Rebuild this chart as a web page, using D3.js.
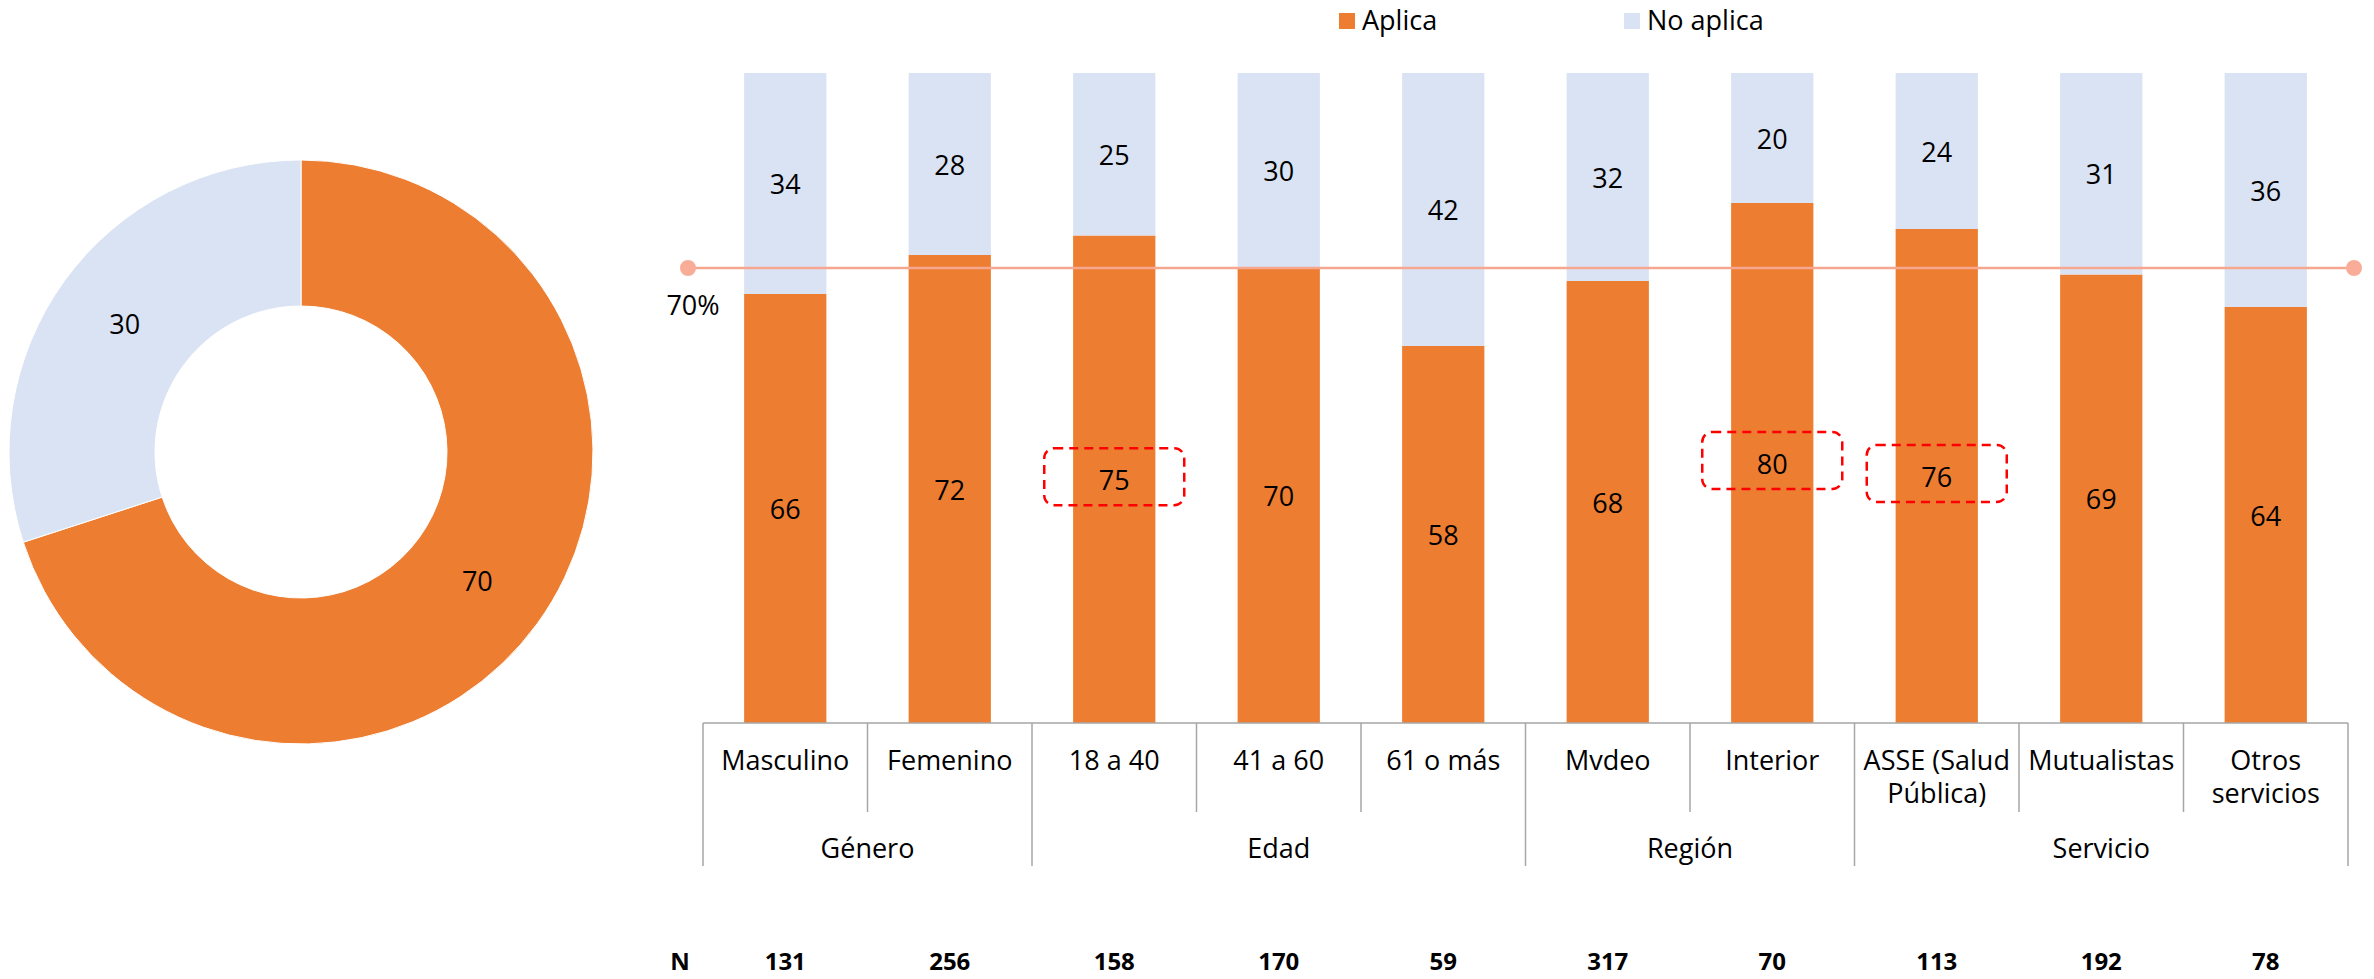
<!DOCTYPE html>
<html>
<head>
<meta charset="utf-8">
<script src="https://cdn.jsdelivr.net/npm/d3@7"></script>
<style>
  html, body { margin: 0; padding: 0; background: #fff; }
  svg { display: block; font-family: "Open Sans", sans-serif; }
</style>
</head>
<body>
<svg id="chart" width="2374" height="979"></svg>
<script>
// ---------- data ----------
const categories = ["Masculino", "Femenino", "18 a 40", "41 a 60", "61 o más", "Mvdeo", "Interior", "ASSE (Salud Pública)", "Mutualistas", "Otros servicios"];
const categoryLines = [["Masculino"], ["Femenino"], ["18 a 40"], ["41 a 60"], ["61 o más"], ["Mvdeo"], ["Interior"], ["ASSE (Salud", "Pública)"], ["Mutualistas"], ["Otros", "servicios"]];
const groupNames = ["Género", "Edad", "Región", "Servicio"];
const groupSizes = [2, 3, 2, 3];
const aplica = [66, 72, 75, 70, 58, 68, 80, 76, 69, 64];
const noAplica = [34, 28, 25, 30, 42, 32, 20, 24, 31, 36];
const nValues = [131, 256, 158, 170, 59, 317, 70, 113, 192, 78];
const highlighted = ["18 a 40", "Interior", "ASSE (Salud Pública)"];
const seriesNames = ["Aplica", "No aplica"];
const totalValues = [70, 30];
const targetValue = 70;
const targetLabel = "70%";
const nLabel = "N";

// ---------- styles ----------
const colors = { "Aplica": "#ED7D31", "No aplica": "#DAE3F3" };
const lineColor = "#F7A690";
const axisColor = "#A6A6A6";

const svg = d3.select("#chart");

// ---------- donut ----------
const donutG = svg.append("g").attr("transform", "translate(301,452)");
const pie = d3.pie().sort(null).value(d => d.value);
const arc = d3.arc().innerRadius(146).outerRadius(292);
const labelArc = d3.arc().innerRadius(218).outerRadius(218);
const pieData = pie(seriesNames.map((s, i) => ({ name: s, value: totalValues[i] })));
donutG.selectAll("path").data(pieData).join("path")
  .attr("d", arc)
  .attr("fill", d => colors[d.data.name])
  .attr("stroke", "#fff").attr("stroke-width", 1);
donutG.selectAll("text").data(pieData).join("text")
  .attr("transform", d => `translate(${labelArc.centroid(d)})`)
  .attr("text-anchor", "middle")
  .attr("dominant-baseline", "central")
  .attr("font-size", 27)
  .attr("fill", "#000")
  .text(d => d.data.value);

// ---------- bar chart ----------
const x = d3.scaleBand().domain(categories).range([703, 2348]).paddingInner(0.5).paddingOuter(0.25);
const y = d3.scaleLinear().domain([0, 100]).range([723, 73]);
const step = x.step();
const bw = x.bandwidth();
const boundary = i => x.range()[0] + i * step;

const rows = categories.map((c, i) => ({ cat: c, Aplica: aplica[i], "No aplica": noAplica[i] }));
const stacked = d3.stack().keys(seriesNames)(rows);

const barsG = svg.append("g");
stacked.forEach(layer => {
  barsG.append("g").selectAll("rect").data(layer).join("rect")
    .attr("x", d => x(d.data.cat))
    .attr("width", bw)
    .attr("y", d => y(d[1]))
    .attr("height", d => y(d[0]) - y(d[1]))
    .attr("fill", colors[layer.key]);
});

// target line
const lineG = svg.append("g");
const lx0 = boundary(0) - 15, lx1 = boundary(categories.length) + 6;
lineG.append("line")
  .attr("x1", lx0).attr("x2", lx1)
  .attr("y1", y(targetValue)).attr("y2", y(targetValue))
  .attr("stroke", lineColor).attr("stroke-width", 2.5);
[lx0, lx1].forEach(px => {
  lineG.append("circle").attr("cx", px).attr("cy", y(targetValue)).attr("r", 8).attr("fill", "#F9AC97");
});
lineG.append("text")
  .attr("x", lx0 + 5).attr("y", y(targetValue) + 36)
  .attr("text-anchor", "middle").attr("dominant-baseline", "central")
  .attr("font-size", 27).attr("fill", "#000")
  .text(targetLabel);

// value labels
stacked.forEach(layer => {
  svg.append("g").selectAll("text").data(layer).join("text")
    .attr("x", d => x(d.data.cat) + bw / 2)
    .attr("y", d => (y(d[0]) + y(d[1])) / 2)
    .attr("text-anchor", "middle")
    .attr("dominant-baseline", "central")
    .attr("font-size", 27)
    .attr("fill", "#000")
    .text(d => d.data[layer.key]);
});

// highlight boxes
const aplicaLayer = stacked[0];
svg.append("g").selectAll("rect")
  .data(aplicaLayer.filter(d => highlighted.includes(d.data.cat)))
  .join("rect")
  .attr("x", d => x(d.data.cat) + bw / 2 - 70)
  .attr("y", d => (y(d[0]) + y(d[1])) / 2 - 31)
  .attr("width", 140).attr("height", 57)
  .attr("rx", 10).attr("ry", 10)
  .attr("fill", "none")
  .attr("stroke", "#FF0000").attr("stroke-width", 2.5)
  .attr("stroke-dasharray", "9,6");

// category axis
const axisG = svg.append("g").attr("stroke", axisColor).attr("stroke-width", 1.5);
axisG.append("line").attr("x1", boundary(0)).attr("x2", boundary(categories.length))
  .attr("y1", y(0)).attr("y2", y(0));
const groupEdges = [0];
groupSizes.forEach(s => groupEdges.push(groupEdges[groupEdges.length - 1] + s));
d3.range(categories.length + 1).forEach(i => {
  const isGroup = groupEdges.includes(i);
  axisG.append("line")
    .attr("x1", boundary(i)).attr("x2", boundary(i))
    .attr("y1", y(0)).attr("y2", isGroup ? 866 : 812);
});

// category labels
const catG = svg.append("g");
categories.forEach((c, i) => {
  const t = catG.append("text")
    .attr("x", x(c) + bw / 2)
    .attr("text-anchor", "middle")
    .attr("font-size", 27)
    .attr("fill", "#000");
  categoryLines[i].forEach((ln, k) => {
    t.append("tspan").attr("x", x(c) + bw / 2).attr("y", 770 + k * 33).text(ln);
  });
});

// group labels
groupNames.forEach((g, gi) => {
  const cx = (boundary(groupEdges[gi]) + boundary(groupEdges[gi + 1])) / 2;
  svg.append("text")
    .attr("x", cx).attr("y", 858)
    .attr("text-anchor", "middle")
    .attr("font-size", 27).attr("fill", "#000")
    .text(g);
});

// N row
svg.append("text").attr("x", 680).attr("y", 970)
  .attr("text-anchor", "middle").attr("font-size", 24).attr("font-weight", "bold")
  .text(nLabel);
svg.append("g").selectAll("text").data(categories).join("text")
  .attr("x", c => x(c) + bw / 2).attr("y", 970)
  .attr("text-anchor", "middle").attr("font-size", 24).attr("font-weight", "bold")
  .text((c, i) => nValues[i]);

// legend
const legendX = [1339, 1624];
seriesNames.forEach((s, i) => {
  svg.append("rect").attr("x", legendX[i]).attr("y", 13).attr("width", 16).attr("height", 16)
    .attr("fill", colors[s]);
  svg.append("text").attr("x", legendX[i] + 23).attr("y", 30)
    .attr("font-size", 27).attr("fill", "#000").text(s);
});
</script>
</body>
</html>
